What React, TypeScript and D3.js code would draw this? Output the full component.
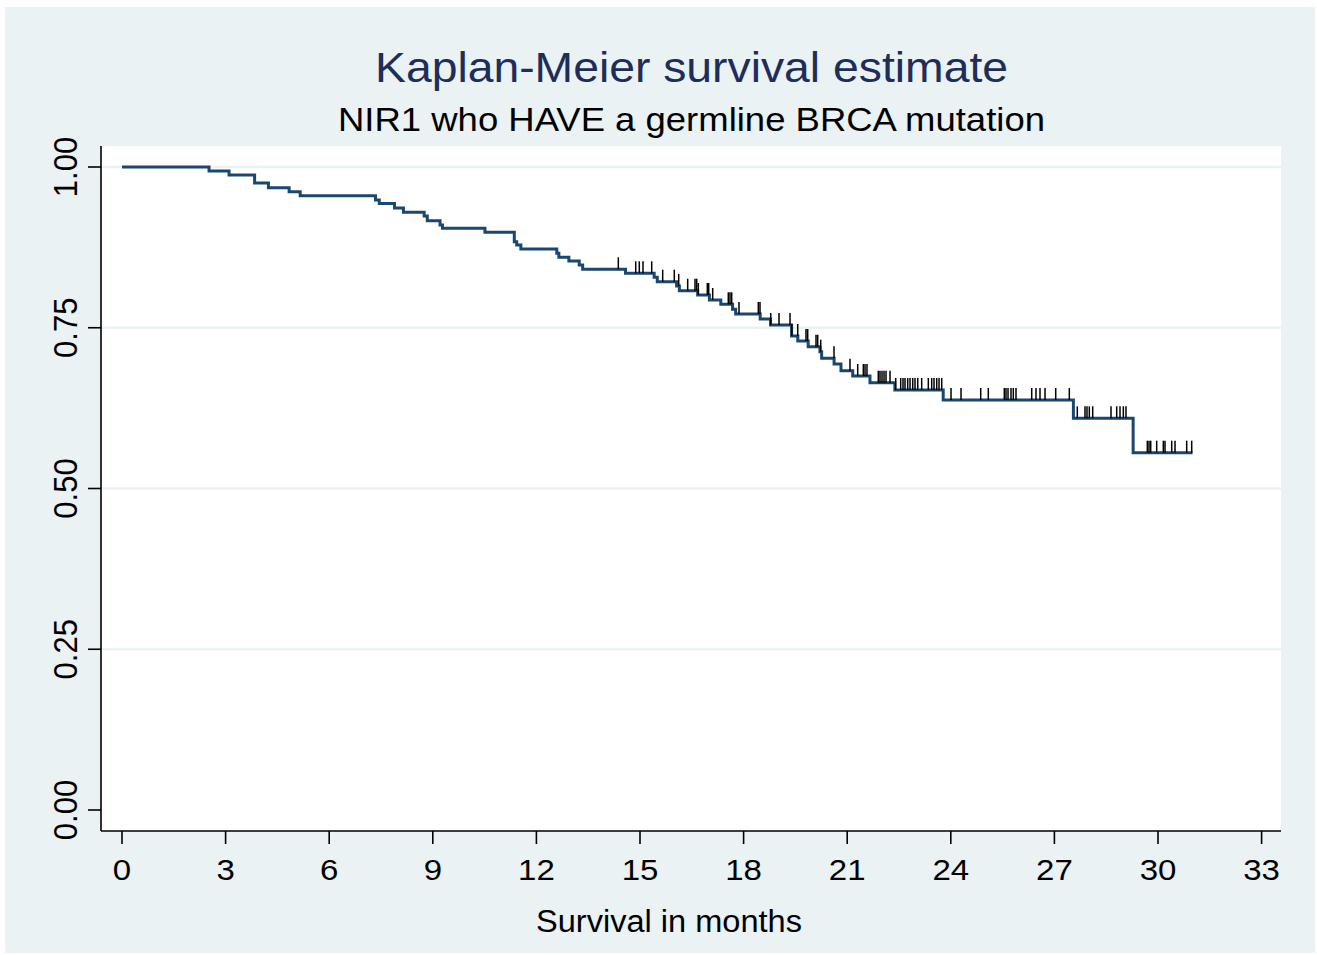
import React from "react";
import * as d3 from "d3";

// Kaplan-Meier step points: [time (months), survival after the drop]
const stepTimes = [
  2.52, 3.1, 3.84, 4.24, 4.84, 5.16, 7.34, 7.45, 7.89, 8.15, 8.75, 8.84, 9.21, 9.28,
  10.51, 11.36, 11.43, 11.55, 12.59, 12.65, 12.94, 13.24, 13.34, 14.58, 15.41, 15.5,
  16.06, 16.14, 16.67, 17.01, 17.34, 17.68, 17.77, 18.48, 18.78, 19.39, 19.57, 19.87,
  20.21, 20.26, 20.62, 20.82, 21.16, 21.66, 22.38, 23.78, 27.55, 29.28,
];
const stepSurvival = [
  0.9938, 0.9876, 0.9751, 0.9678, 0.9616, 0.9554, 0.9487, 0.9432, 0.9362, 0.9295, 0.9238,
  0.9165, 0.9098, 0.9047, 0.8984, 0.8838, 0.8787, 0.8725, 0.8658, 0.8596, 0.8538, 0.8476,
  0.8409, 0.8347, 0.8285, 0.8216, 0.8149, 0.8076, 0.8009, 0.7932, 0.7865, 0.7787, 0.7714,
  0.7636, 0.7543, 0.7372, 0.7294, 0.7205, 0.7128, 0.7025, 0.6936, 0.6832, 0.675, 0.6645,
  0.6532, 0.6376, 0.6092, 0.5557,
];
const endTime = 31.0;

// Censoring times (months)
const censorTimes = [
  14.372, 14.876, 14.98, 15.087, 15.339, 15.657, 15.993, 16.121, 16.381, 16.593, 16.642,
  16.688, 16.949, 16.989, 17.105, 17.557, 17.606, 17.655, 17.867, 18.426, 18.475, 18.785,
  19.025, 19.344, 19.393, 19.567, 19.807, 19.856, 20.097, 20.146, 20.233, 20.618, 21.081,
  21.304, 21.467, 21.516, 21.573, 21.901, 21.95, 22.008, 22.066, 22.124, 22.24, 22.404,
  22.549, 22.616, 22.674, 22.752, 22.819, 22.897, 22.963, 23.042, 23.157, 23.349, 23.447,
  23.514, 23.592, 23.659, 23.737, 24.006, 24.296, 24.866, 25.086, 25.549, 25.598, 25.657,
  25.743, 25.81, 25.888, 26.343, 26.467, 26.583, 26.728, 27.038, 27.432, 27.663, 27.886,
  27.944, 28.011, 28.109, 28.639, 28.804, 28.9, 28.996, 29.073, 29.691, 29.74, 29.789,
  29.962, 30.154, 30.203, 30.397, 30.493, 30.831, 30.976,
];

const xTicks = [0, 3, 6, 9, 12, 15, 18, 21, 24, 27, 30, 33];
const yTicks = [0, 0.25, 0.5, 0.75, 1.0];
const yGrid = [0.25, 0.5, 0.75, 1.0];

const titleText = "Kaplan-Meier survival estimate";
const subtitleText = "NIR1 who HAVE a germline BRCA mutation";
const xTitleText = "Survival in months";

const W = 1317;
const H = 955;
const FONT = "'Liberation Sans', Arial, Helvetica, sans-serif";
const BG = "#eaf2f3";
const LINE = "#1a476f";

export default function App() {
  const plot = { left: 101, right: 1281, top: 146, bottom: 831 };
  const x = d3.scaleLinear().domain([0, 33]).range([122, 1261.6]);
  const y = d3.scaleLinear().domain([0, 1]).range([810, 167]);

  const survAt = (t: number) => {
    let s = 1;
    for (let i = 0; i < stepTimes.length; i++) {
      if (stepTimes[i] <= t) s = stepSurvival[i];
    }
    return s;
  };

  const pts: [number, number][] = [[0, 1]];
  stepTimes.forEach((t, i) => pts.push([t, stepSurvival[i]]));
  pts.push([endTime, stepSurvival[stepSurvival.length - 1]]);

  const line = d3
    .line<[number, number]>()
    .x((d) => x(d[0]))
    .y((d) => y(d[1]))
    .curve(d3.curveStepAfter);

  const sx = 1.1;

  return (
    <svg
      width={W}
      height={H}
      style={{ position: "absolute", left: 0, top: 0 }}
      xmlns="http://www.w3.org/2000/svg"
    >
      <rect x={0} y={0} width={W} height={H} fill="#ffffff" />
      <rect x={5} y={7} width={1310} height={946} fill={BG} />
      <rect
        x={plot.left}
        y={plot.top}
        width={plot.right - plot.left}
        height={plot.bottom - plot.top}
        fill="#ffffff"
      />
      {yGrid.map((v) => (
        <line
          key={"g" + v}
          x1={plot.left}
          x2={plot.right}
          y1={y(v)}
          y2={y(v)}
          stroke={BG}
          strokeWidth={2.5}
        />
      ))}

      {/* Axes */}
      <line x1={plot.left} x2={plot.left} y1={plot.top} y2={plot.bottom} stroke="#000" strokeWidth={1.6} />
      <line x1={plot.left} x2={plot.right} y1={plot.bottom} y2={plot.bottom} stroke="#000" strokeWidth={1.6} />
      {yTicks.map((v) => (
        <g key={"yt" + v}>
          <line x1={plot.left - 13} x2={plot.left} y1={y(v)} y2={y(v)} stroke="#000" strokeWidth={1.6} />
          <text
            transform={`translate(77,${y(v)}) rotate(-90) scale(1,${sx})`}
            textAnchor="middle"
            fontFamily={FONT}
            fontSize={31}
            fill="#000"
          >
            {d3.format(".2f")(v)}
          </text>
        </g>
      ))}
      {xTicks.map((v) => (
        <g key={"xt" + v}>
          <line x1={x(v)} x2={x(v)} y1={plot.bottom} y2={plot.bottom + 13} stroke="#000" strokeWidth={1.6} />
          <text
            transform={`translate(${x(v)},880) scale(${sx},1)`}
            textAnchor="middle"
            fontFamily={FONT}
            fontSize={30}
            fill="#000"
          >
            {v}
          </text>
        </g>
      ))}

      {/* Curve */}
      <path d={line(pts) || ""} fill="none" stroke={LINE} strokeWidth={3} />

      {/* Censor marks */}
      {censorTimes.map((t, i) => {
        const cy = y(survAt(t));
        return (
          <line
            key={"c" + i}
            x1={x(t)}
            x2={x(t)}
            y1={cy}
            y2={cy - 12}
            stroke="#000"
            strokeWidth={1.5}
          />
        );
      })}

      {/* Titles */}
      <text
        x={691.5}
        y={82}
        textAnchor="middle"
        fontFamily={FONT}
        fontSize={42}
        fill="#1e2d59"
        textLength={633}
        lengthAdjust="spacingAndGlyphs"
      >
        {titleText}
      </text>
      <text
        x={691.5}
        y={131}
        textAnchor="middle"
        fontFamily={FONT}
        fontSize={33}
        fill="#000"
        textLength={707}
        lengthAdjust="spacingAndGlyphs"
      >
        {subtitleText}
      </text>
      <text
        x={669}
        y={932}
        textAnchor="middle"
        fontFamily={FONT}
        fontSize={31}
        fill="#000"
        textLength={266}
        lengthAdjust="spacingAndGlyphs"
      >
        {xTitleText}
      </text>
    </svg>
  );
}
